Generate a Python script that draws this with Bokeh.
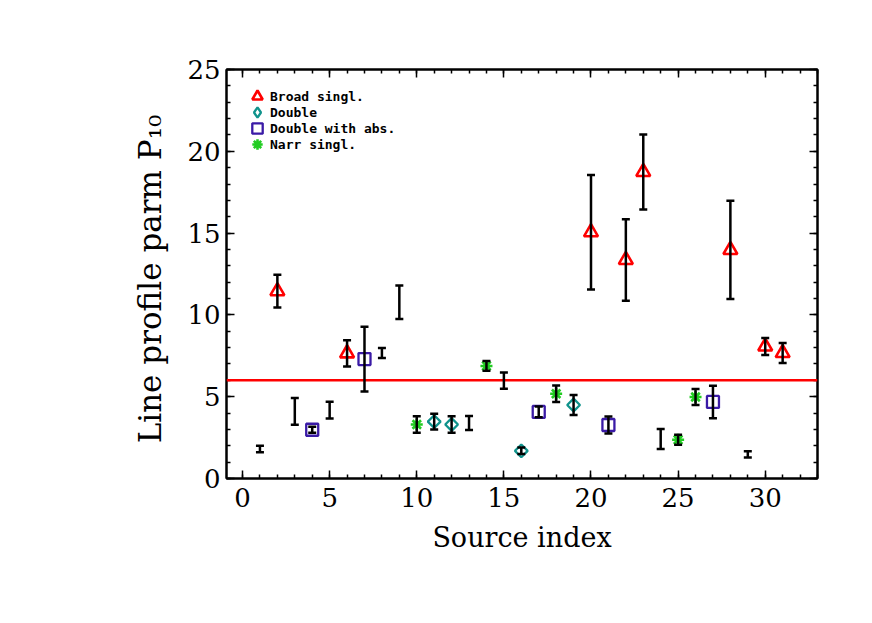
import math
from bokeh.plotting import figure
from bokeh.models import (Range1d, LinearAxis, SingleIntervalTicker, Whisker, TeeHead,
                          ColumnDataSource, Span, Legend, LegendItem)
from bokeh.embed import file_html
from bokeh.resources import INLINE

# ---------------- data ----------------
source_index = list(range(1, 32))
p10 = [1.8, 11.45, 4.1, 2.98, 4.18, 7.65, 7.3, 7.67, 10.77, 3.3,
       3.48, 3.3, 3.39, 6.88, 5.98, 1.69, 4.07, 5.18, 4.49, 15.05,
       3.27, 13.36, 18.74, 2.41, 2.37, 4.98, 4.68, 13.97, 1.48, 8.07, 7.67]
p10_err = [0.2, 1.0, 0.82, 0.18, 0.51, 0.8, 1.98, 0.31, 1.02, 0.5,
           0.48, 0.5, 0.43, 0.3, 0.5, 0.2, 0.33, 0.51, 0.61, 3.5,
           0.52, 2.49, 2.29, 0.61, 0.31, 0.49, 0.99, 3.0, 0.19, 0.52, 0.61]
profile_class = ["none", "broad", "none", "dabs", "none", "broad", "dabs", "none", "none", "narrow",
                 "double", "double", "none", "narrow", "none", "double", "dabs", "narrow", "double", "broad",
                 "dabs", "broad", "broad", "none", "narrow", "narrow", "dabs", "broad", "none", "broad", "broad"]
class_order = ["broad", "double", "dabs", "narrow"]
class_labels = ["Broad singl.", "Double", "Double with abs.", "Narr singl."]
threshold = 6.0
x_ticks_interval = 5
y_ticks_interval = 5

# ---------------- figure ----------------
p = figure(width=856, height=607, output_backend="svg", toolbar_location=None,
           x_range=Range1d(-0.92, 33.0), y_range=Range1d(0, 25),
           min_border_left=226, min_border_right=39, min_border_top=69, min_border_bottom=129,
           background_fill_color="white", border_fill_color="white")
p.grid.visible = False
p.outline_line_color = "black"
p.outline_line_width = 2

serif = "DejaVu Serif"

def style_axis(ax, labels=True):
    ax.axis_line_width = 2
    ax.axis_line_color = "black"
    ax.major_tick_in = 8
    ax.major_tick_out = 0
    ax.minor_tick_in = 4
    ax.minor_tick_out = 0
    ax.major_tick_line_width = 1.5
    ax.minor_tick_line_width = 1.5
    ax.major_tick_line_color = "black"
    ax.minor_tick_line_color = "black"
    if labels:
        ax.major_label_text_font = serif
        ax.major_label_text_font_size = "26px"
        ax.major_label_text_color = "black"
        ax.axis_label_text_font = serif
        ax.axis_label_text_font_size = "27px"
        ax.axis_label_text_font_style = "normal"
        ax.axis_label_text_color = "black"
    else:
        ax.major_label_text_color = None
        ax.major_label_text_font_size = "6px"

xt = SingleIntervalTicker(interval=x_ticks_interval, num_minor_ticks=5)
yt = SingleIntervalTicker(interval=y_ticks_interval, num_minor_ticks=5)

p.xaxis[0].ticker = xt
p.yaxis[0].ticker = yt
style_axis(p.xaxis[0])
style_axis(p.yaxis[0])
p.xaxis[0].axis_label = "Source index"
p.yaxis[0].axis_label = "Line profile parm  P\u2081\u2080"
p.yaxis[0].axis_label_text_font_size = "31px"
p.xaxis[0].major_label_standoff = 9
p.xaxis[0].axis_label_standoff = 12
p.yaxis[0].major_label_standoff = 6
p.yaxis[0].axis_label_standoff = 16

top_ax = LinearAxis(ticker=SingleIntervalTicker(interval=x_ticks_interval, num_minor_ticks=5))
right_ax = LinearAxis(ticker=SingleIntervalTicker(interval=y_ticks_interval, num_minor_ticks=5))
style_axis(top_ax, labels=False)
style_axis(right_ax, labels=False)
p.add_layout(top_ax, "above")
p.add_layout(right_ax, "right")

# threshold line
p.add_layout(Span(location=threshold, dimension="width", line_color="#ff0000", line_width=2.5))

# ---------------- markers ----------------
styles = {
    "broad": dict(marker="triangle", size=14, line_color="#ff0000", line_width=2.6, angle=0.0),
    "double": dict(marker="square", size=9, line_color="#10938c", line_width=2.3, angle=math.pi / 4),
    "dabs": dict(marker="square", size=12, line_color="#3a1aa6", line_width=2.3, angle=0.0),
    "narrow": dict(marker="asterisk", size=12, line_color="#22cc22", line_width=2.6, angle=0.0),
}

legend_renderers = {}
for cls in class_order:
    xs = [x for x, c in zip(source_index, profile_class) if c == cls]
    ys = [y for y, c in zip(p10, profile_class) if c == cls]
    st = styles[cls]
    r = p.scatter(xs, ys, marker=st["marker"], size=st["size"], angle=st["angle"],
                  fill_color=None, line_color=st["line_color"], line_width=st["line_width"])
    legend_renderers[cls] = r
    if cls == "double":
        # the legend does not rotate markers: use a hidden diamond renderer for its key
        leg_d = p.scatter(xs, ys, marker="diamond", size=12, fill_color=None,
                          line_color=st["line_color"], line_width=2.3, visible=False)
        legend_renderers["double"] = leg_d

# error bars
src = ColumnDataSource(dict(
    x=source_index,
    upper=[v + e for v, e in zip(p10, p10_err)],
    lower=[v - e for v, e in zip(p10, p10_err)],
))
wh = Whisker(source=src, base="x", upper="upper", lower="lower",
             line_color="black", line_width=2.5, level="overlay",
             upper_head=TeeHead(size=8, line_color="black", line_width=2.5),
             lower_head=TeeHead(size=8, line_color="black", line_width=2.5))
p.add_layout(wh)

# ---------------- legend (one box per row, rows 16px apart) ----------------
for i, (c, lab) in enumerate(zip(class_order, class_labels)):
    lg = Legend(items=[LegendItem(label=lab, renderers=[legend_renderers[c]])],
                location=(18, 368 - 16 * i),
                glyph_width=26, glyph_height=28, label_height=16, spacing=0,
                label_standoff=-3, padding=0, margin=0,
                border_line_color=None, background_fill_alpha=0,
                inactive_fill_alpha=0,
                label_text_font="DejaVu Sans Mono", label_text_font_style="bold",
                label_text_font_size="13px", label_text_color="black")
    p.add_layout(lg, "center")

open("out.html", "w").write(file_html(p, INLINE))
